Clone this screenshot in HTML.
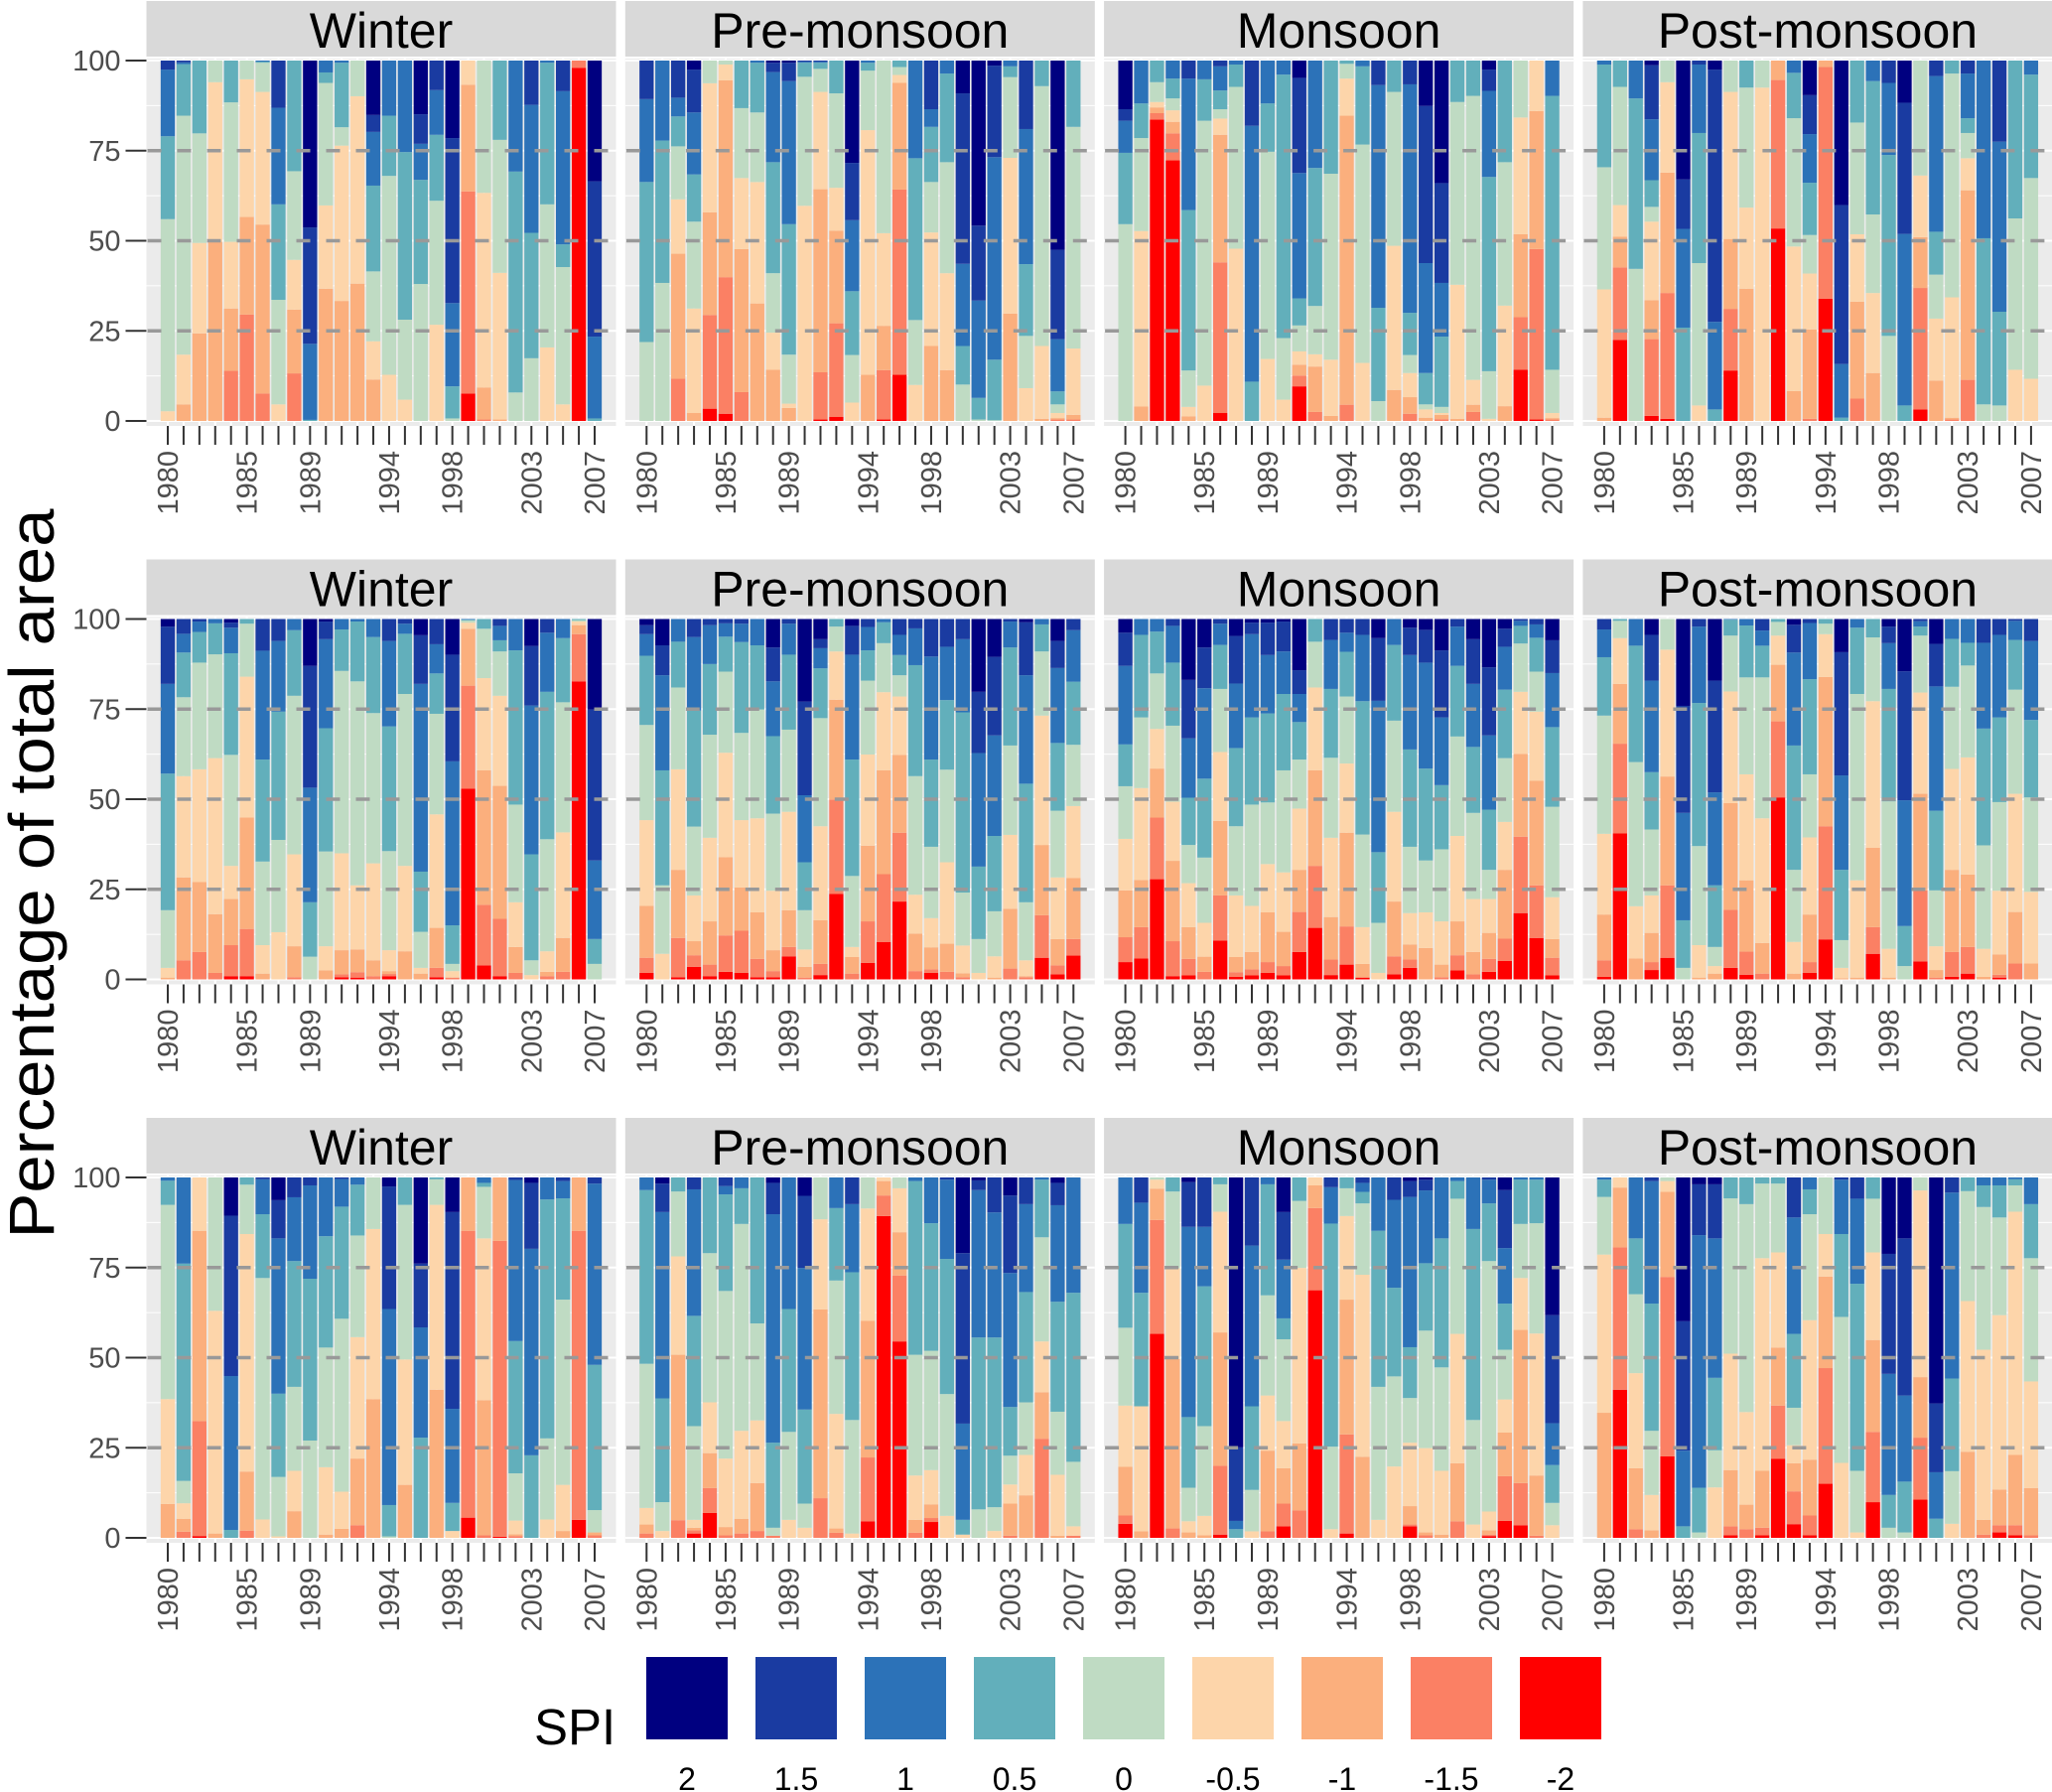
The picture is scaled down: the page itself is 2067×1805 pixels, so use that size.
<!DOCTYPE html>
<html><head><meta charset="utf-8"><title>SPI area percentages</title>
<style>
html,body{margin:0;padding:0;background:#fff;}
svg{display:block;font-family:"Liberation Sans",Arial,sans-serif;}
</style></head>
<body>
<svg id="chart" width="2067" height="1805" viewBox="0 0 2067 1805" xmlns="http://www.w3.org/2000/svg"></svg>
<script>
// ---- data ----
const categories = ["2","1.5","1","0.5","0","-0.5","-1","-1.5","-2"];
const colors = ["#000080","#1a3ba1","#2c72b8","#62afbb","#bfdbc3","#fdd5aa","#fbaf7d","#fb8064","#ff0000"];
const years = [];
for (let y = 1980; y <= 2007; y++) years.push(y);
const xLabelYears = [1980,1985,1989,1994,1998,2003,2007];
const yTicks = [0,25,50,75,100];
const dashedLevels = [25,50,75];
const seasons = ["Winter","Pre-monsoon","Monsoon","Post-monsoon"];
// each bar: cumulative tops (%) of SPI classes -2,-1.5,-1,-0.5,0,0.5,1,1.5 (class 2 fills to 100)
const r1Winter = [[0,0,0,2.7,56,79,97.5,100],[0,0,4.6,18.4,84.7,99,99.5,100],[0,0,24.3,49.4,79.8,100,100,100],[0,0,49.7,94,100,100,100,100],[0,13.9,31.2,49.7,88.4,100,100,100],[0,29.5,56.6,94.8,100,100,100,100],[0,7.6,54.5,91.3,99.4,99.7,100,100],[0,0,0,4.6,33.6,60.1,86.9,100],[0,13.2,30.9,44.7,69.3,100,100,100],[0,0,0,0,0,0.3,21.4,53.7],[0,0,36.7,59.8,93.8,96.7,100,100],[0,0,33.3,76.4,81.5,99.4,100,100],[0,0,38.1,90.1,100,100,100,100],[0,0,11.5,22.1,41.5,65.3,80.2,84.9],[0,0,0,12.8,68,84.7,100,100],[0,0,0,5.9,28.1,74.6,100,100],[0,0,0,0,38,66.9,76.9,85.1],[0,0,0,26.7,61.1,79.4,91.8,100],[0,0,0,0,0.7,9.6,32.7,78.5],[7.6,63.7,93.3,100,100,100,100,100],[0,0.4,9.3,63.3,100,100,100,100],[0,0,0.4,41.1,78,100,100,100],[0,0,0,0,7.9,69.2,100,100],[0,0,0,0,17.4,52.2,87.7,100],[0,0,0,20.4,60.1,99.4,100,100],[0,0,0,4.6,42.7,49,91.5,100],[98,100,100,100,100,100,100,100],[0,0,0,0,0,0.7,23.4,66.5]];
const r1Pre = [[0,0,0,0,21.9,66.3,89.3,100],[0,0,0,0,38.3,77.8,100,100],[0,11.7,46.4,61.5,76.2,84.5,89.7,100],[0,0,2.2,31.2,55.3,68.4,85.6,97.5],[3.4,29.4,57.9,93.7,100,100,100,100],[2,39.9,94.5,98.9,100,100,100,100],[0,8,47.7,67.4,86.8,100,100,100],[0,0,32.6,66.3,85.6,99.4,100,100],[0,0,14.2,24.5,41,71.8,96.8,99.4],[0,0,3.6,4.8,18.4,54.6,94.3,99.4],[0,0,0,59.7,95.5,99.4,99.7,100],[0.4,13.5,64.3,91.3,97.7,99.4,99.7,100],[1.1,27.1,52.8,64.7,90.9,100,100,100],[0,0,0,5.1,18.3,36,55.7,71.6],[0,0,12.8,80.7,97.2,99.4,100,100],[0.4,14.1,26.4,52.1,100,100,100,100],[12.8,64.2,93.8,96,98.2,100,100,100],[0,0,0,10,28,72.9,100,100],[0,0,20.8,52.3,66.3,81.6,86.5,100],[0,0,14.1,41,71.8,96.4,100,100],[0,0,0,0,10.1,20.8,43.6,90.9],[0,0,0,0,0.4,6.4,33.4,54.2],[0,0,0,0,0.2,17,73.2,98.6],[0,0,29.8,73,95.4,98.4,100,100],[0,0,0,9.1,23.6,43.5,81,100],[0,0,0.6,20.8,92.9,100,100,100],[0,0.4,0.8,2.2,4.6,8.2,22.7,47.5],[0,0.4,1.7,20.1,81.6,100,100,100]];
const r1Mon = [[0,0,0,0,54.6,74.4,83.3,86.5],[0,0,4,52.7,78.5,88.1,100,100],[83.6,85.4,87,88.5,94,100,100,100],[72.3,79.8,83,86.2,89.5,95,100,100],[0,0,1.3,3.9,14,58.5,95,100],[0,0,0,9.8,83.3,94.8,100,100],[2.2,44,79.4,83.9,86.5,91.7,98.4,100],[0,0,0,47.8,92.7,98.9,100,100],[0,0,0,0,0,10.9,81.9,100],[0,0,0,17.2,74.7,88.1,100,100],[0,0,0,5.9,23,96.1,100,100],[9.6,12.6,15.6,19.3,26.5,34,68.8,95.2],[0,2.5,15.1,18.5,31.9,70.2,100,100],[0,0,1.4,17,68.6,100,100,100],[0,4.5,84.7,95,99.1,100,100,100],[0,0,0,16.1,76.7,98.4,100,100],[0,0,0,0,5.5,31.4,93.2,100],[0,0,8.6,48.6,91.3,100,100,100],[0,2,6.6,13.3,18.3,30,93.4,100],[0,0,0.9,3.2,4.6,13.3,43.8,87.4],[0,0.5,1.7,2.2,3.9,23.4,38.3,66],[0,0,0.6,37.8,88.5,100,100,100],[0,2.5,4.5,11.4,90.2,100,100,100],[0,0,0,0.6,13.8,67.7,91.6,97.5],[0,0,4.1,32,71.8,100,100,100],[14.2,28.8,51.8,84.2,100,100,100,100],[0.4,47.7,86,100,100,100,100,100],[0,0.4,0.8,2.2,14.2,90.2,100,100]];
const r1Post = [[0,0,0.9,36.5,70.4,98.9,100,100],[22.5,42.6,51.1,59.9,92.7,100,100,100],[0,0,0,0,42.2,89.5,100,100],[1.4,22.7,33.5,55.3,59.4,66.8,83.7,98.7],[0.6,35.5,68.9,94,100,100,100,100],[0,0,0,0,0,25.9,53.3,67],[0,0,0,4.3,43.8,79.9,98.9,100],[0,0,0,0,0,3.2,27.5,97.5],[14,31.1,50.5,91.3,100,100,100,100],[0,0,36.7,59.2,92.5,100,100,100],[0,0,0,92.5,100,100,100,100],[53.4,94.6,100,100,100,100,100,100],[0,0,8.3,48.4,84,96.6,100,100],[0,0.6,25.4,40.9,51.6,66.1,79.6,90.4],[33.9,98.2,100,100,100,100,100,100],[0,0,0,0,0,0.9,15.8,59.9],[0,6.2,33.1,51.8,82.8,100,100,100],[0,0,13.3,35.5,57.3,94.3,100,100],[0,0,0,0,23.6,73.8,93.8,100],[0,0,0,0,0,4.3,51.9,88.3],[3.2,36.9,51,68.1,100,100,100,100],[0,0,11.2,28.4,40.6,52.5,95.7,100],[0,0.4,0.9,34.3,96.4,100,100,100],[0,11.4,64,72.9,79.9,84,96.4,100],[0,0,0,0,4.6,50.7,100,100],[0,0,0,0,4.3,30.3,77.5,100],[0,0,0,14.2,56.2,100,100,100],[0,0,0,11.7,67.4,96.1,100,100]];
const r2Winter = [[0,0,0.5,3.2,19.2,57.1,82,97.9],[0,5.3,28.3,56.4,78.3,90.7,95.9,100],[0,7.6,27,58.3,87.9,96.4,99.3,100],[0,1.8,18.1,61.4,90.2,98.8,100,100],[0.9,9.5,22.3,31.5,62.3,90.5,97.6,99],[0.9,14,44.9,84,98.7,100,100,100],[0,0,1.6,9.5,32.7,61,91.2,100],[0,0,0,13.1,38.7,74.3,93.9,100],[0,0.6,9.2,34.7,78.7,96.9,100,100],[0,0,0,0,6.3,21.4,53.2,87],[0,0,2.5,9.2,35.5,69.7,94.4,99.3],[0.6,1.4,8.1,35,85.6,97.1,100,100],[0.5,2,8.3,26.1,82.7,99.3,100,100],[0,0.9,5.3,32.2,73.9,95,100,100],[0.9,1.5,2.3,8.1,35.6,70.2,93.9,100],[0,0,7.8,31.5,79.2,95.9,98.7,100],[0,0,1.6,3.2,13.2,29.9,82,95.5],[0.6,3.2,14.3,45.8,73.7,84.9,93,100],[0,0.5,0.5,2.3,4.3,15,60.5,90.1],[52.9,81.5,97.3,99,99.6,99.8,100,100],[3.9,20.7,58,83.6,97.3,100,100,100],[0.9,16.8,53.7,78.7,91,94.1,98.1,100],[0,1.8,9,21.4,48.5,91.3,100,100],[0,0,0,1.2,5.3,34.7,76,92.5],[0,0.9,2.1,7.8,38.9,79.8,96.2,100],[0,2.1,11.5,40.8,76.9,94.7,100,100],[82.7,95.8,98.3,99.3,99.7,100,100,100],[0,0,0,0,4.3,11.2,33,74.9]];
const r2Pre = [[1.8,6,20.4,44.2,70.6,89.8,95.8,98.3],[0,0,0,7.1,26.1,58,84.4,92.7],[0.6,11.5,30.4,58.3,81,93.7,100,100],[3.5,6.7,10.6,23.3,42.4,74.6,95,100],[0.9,4.1,16.1,39.3,67.9,87.5,98.3,100],[2.1,12.2,33.9,62.9,85.4,95.1,98.8,100],[1.8,13.5,25.5,44.2,68.4,93.6,98.7,100],[0.6,5.7,18.6,44.7,74.9,92.7,100,100],[0.6,2.3,8.1,24.6,46,67.5,82.7,92.1],[6.4,9,19.2,46.5,69.3,90.1,98.7,100],[0,0.5,3.5,8.3,19.2,32.5,51.1,77.1],[1.2,4.3,16.4,42.5,72.5,86.3,91.9,94.4],[23.7,49.9,77.6,91,97.9,100,100,100],[0,1.6,6.2,9,28.7,61,90.1,98.1],[4.6,16.1,37.1,62.4,82.9,91.3,97.8,100],[10.4,29.2,58,79.7,93.3,99.1,100,100],[21.6,40.7,62.3,78.5,84.4,90,95.6,100],[0,2.3,12.7,23.5,56.4,87.2,97.4,100],[1.8,2.8,8.9,17,36.8,61,89.6,100],[0,2.1,9.9,32.5,58.2,77.5,92.3,100],[0,0.6,1.7,9.4,24.1,74.1,94.4,100],[0,0,0,1.8,11.2,31.3,62.8,79.8],[0,0,0.5,6.4,18.9,39.8,67.7,89.5],[0,3,19.6,40.1,64.9,92.1,99.3,100],[0,0.6,0.9,5.3,21.4,54.3,84.4,99.1],[6,17.8,37.3,73.2,91,98.5,100,100],[1.4,3.9,11.2,28.3,46.8,65.6,86.4,93.9],[6.6,11.2,28.1,48.1,65.1,82.6,96.9,100]];
const r2Mon = [[4.8,11.7,24.7,39,53.6,65.2,87,96.2],[5.8,14.5,27.6,53.1,72.7,95.6,100,100],[27.8,44.9,58.5,69.5,84.9,96.5,100,100],[0.9,10.6,32.9,49.3,70.4,87.9,98.1,100],[1.1,5.7,14.5,26.7,37.3,50.4,66.9,83.1],[0,2.1,6.3,15.7,33.8,55.7,80.8,92.1],[10.8,23.3,44,63.1,80.6,92.8,98.7,100],[0.7,2,6.2,23.3,42.5,64.2,82.1,95.3],[1.1,2.8,7.6,20.4,48.5,72.7,95.8,99],[1.8,4.8,18.6,32,49.1,73.8,90,99],[1.1,3.7,13.2,29.7,58,79.2,91,99.3],[7.6,18.7,30.4,47.4,61,71.4,79.2,85.8],[14.3,31.5,58,81,93.7,100,100,100],[1.2,5.5,17.3,39.3,61.5,80.6,94.2,100],[4.1,14.7,40.7,59.9,78.5,90.9,96.2,100],[0.5,0.5,4.3,14.5,40.2,77.2,95.6,100],[0,0,0,1.8,15.7,35.3,77.3,94.7],[1.4,6.4,21.6,46.5,71.8,92.8,100,100],[3.2,5.5,9.7,18.4,36.8,63.8,90,97.6],[0,0,8.7,18.6,33,58.5,87.9,97],[0,0.6,4.1,16.1,36.1,53.9,72.7,91.3],[2.5,6.7,16.1,39.8,67.4,87,97.9,100],[0,1.4,7.6,22.3,46.2,64.5,82,94.4],[2.1,5.7,12.9,22.3,30.4,47.1,67.7,86.6],[5.1,11.3,30.4,43.7,61.4,80.4,92.3,97.3],[18.4,39.6,62.6,79.8,93.2,98.1,99.5,100],[11.5,26.1,55.1,74.3,85.4,94.8,98.5,100],[1.1,6,11.2,22.8,47.9,70,85,94.1]];
const r2Post = [[0.7,5.3,18,40.4,73.2,89.4,97.1,100],[40.5,65.4,82,94.7,99.5,100,100,100],[0,0,5.8,20.3,60.3,92.6,100,100],[2.6,4.8,12.9,23.3,41.6,57.5,82.9,95.6],[6,26.1,56.3,91.5,100,100,100,100],[0,0,0,0,3.2,16.4,46.2,75.9],[0,0,0.5,9.5,37,76.7,97.9,100],[0,0,1.6,3.7,9,26.1,51.9,82.9],[3.2,19.3,48.9,79.9,95.4,99.8,100,100],[1.3,7.7,27.5,56.9,83.8,98.2,100,100],[0,1.6,10.1,44.7,83.8,92.6,96.8,100],[50.5,71.6,87.3,95.4,99.2,100,100,100],[0,0,1.6,10.4,30.4,64.9,90.7,98.4],[1.8,4.8,18,39.4,56.9,83.3,98.9,100],[11.1,42.5,83.9,95.8,98.7,100,100,100],[0,0,0.3,3.2,10.9,30.4,56.6,90.8],[0,0,0.5,27.5,79.2,97.6,100,100],[7.1,14.5,36.5,77.2,94.9,100,100,100],[0,0,0.5,8.5,49.4,80.6,93.3,97.9],[0,0,0,0,3.7,14.8,49.7,85.5],[5,24.7,51.5,79.6,95.4,97.9,99.4,100],[0,0.5,2.6,9.2,24.7,46.8,81.3,93.1],[0.7,7.6,30.4,58.4,81.2,94.5,100,100],[1.6,9,29.1,61.6,87.1,93.4,100,100],[0,0,0.7,8.5,37.2,69.6,93.4,100],[0.5,1.3,6.9,24.6,49.2,72.7,95.6,100],[0,4.4,18.7,51.5,80.4,94.2,99.5,100],[0,0,4.4,24.3,50.5,72,93.9,100]];
const r3Winter = [[0,0,9.4,38.5,92.4,99.1,100,100],[0,1.7,5.3,9.6,15.8,76.1,100,100],[0.5,32.4,85.2,100,100,100,100,100],[0,0,1.2,63,100,100,100,100],[0,0,0,0,0,2.2,44.9,89.4],[0,2,18.4,84.3,98,100,100,100],[0,0,0,5.1,72.1,89.8,99.5,100],[0,0,0,0.4,16.9,40,83.1,93.7],[0,0,7.4,18.6,41.9,76.8,94.5,100],[0,0,0,0,27,71.9,97.8,100],[0,0,0.9,19.6,52.8,83.7,100,100],[0,0,2.5,12.8,60.8,91.9,99.6,100],[0,3.5,22,55.7,83.9,98,100,100],[0,0,38.5,85.7,100,100,100,100],[0,0,0,0,0.4,9.1,63.5,97.5],[0,0,14.7,49.5,92.4,100,100,100],[0,0,0,0,0,27.8,58.4,76.1],[0,0,41.1,92.4,99.5,100,100,100],[0,0,0,1.9,1.9,9.7,35.8,90.4],[5.6,85.2,100,100,100,100,100,100],[0,0.7,38.2,83.1,97.4,98.5,100,100],[0.3,82.4,100,100,100,100,100,100],[0,0.5,1,4.8,17.9,54.6,99.3,100],[0,0,0,0,0,22.9,80.2,98.5],[0,0,0,5.1,27.6,93.9,100,100],[0,0,1.9,14.7,66.1,94.2,99,100],[5,85.2,100,100,100,100,100,100],[0,0.7,1.5,1.5,7.7,48,98.3,100]];
const r3Pre = [[0,1.2,3.7,8.3,48.3,96.5,100,100],[0,0,0,1.9,9.9,38.7,90.4,98.3],[0,4.9,50.8,78.1,96.1,100,100,100],[1.2,2.1,2.8,5,31,61.6,96.7,100],[6.9,13.8,23.5,37.6,79,100,100,100],[0,0.7,3,22,68.5,95.3,97.6,100],[0,1.2,5.3,29.7,87.1,97,100,100],[0,1.9,15.2,32.6,59.5,100,100,100],[0,0.6,0.6,0.6,2.8,26.4,89.8,98.5],[0,0,0,5,29.4,63.5,100,100],[0,0,0,2.8,9.5,35.6,74.9,94.9],[0,11,63.4,88.4,100,100,100,100],[0,1.4,2.6,34.4,71.4,91.5,100,100],[0,0,0,1.2,32.7,73.7,92.6,100],[4.6,22.3,60.2,91.4,100,100,100,100],[89.3,95,99,100,100,100,100,100],[54.5,72.8,84.8,97,100,100,100,100],[0,1.4,5,17.3,50.8,99,100,100],[4.4,5.5,9.3,18.8,51.9,87.3,100,100],[0,0,0,6.1,39.9,77.4,99.4,100],[0,0,0,0.9,0.9,5,31.7,79],[0,0,0,0,7.9,55.6,96.5,99.2],[0,0,0,1.9,8.5,55.6,90.3,100],[0,0.6,9.5,14.8,22.8,36.3,73.5,95],[0,0,11.8,23,37.6,68.2,92.6,100],[0,27.5,40.4,54.5,83.4,99.4,100,100],[0,0,0.6,17.5,35,65.5,92.3,98.5],[0,0.6,0.6,3.2,21.1,68,100,100]];
const r3Mon = [[3.9,6.2,19.7,36.7,58.3,87.1,100,100],[0,0,1.8,36.5,36.5,68,93,100],[56.6,88.2,96.9,99.4,100,100,100,100],[0,2.6,49.6,74.8,96.1,100,100,100],[0,0,1.5,4.6,13.9,33.5,86.3,98.7],[0,0,0.7,6.1,31,69.8,86.3,100],[0.9,20,57,90.5,98.1,100,100,100],[0,0,0,0,0,2.4,4.7,25.1],[0,0,0,1.8,13.3,36.5,81.1,100],[0,1.8,24.2,39.5,67.3,98.1,100,100],[3.2,9.5,19.3,32.4,55.1,60.9,77.2,90.4],[0,7.6,26.2,74.9,93.5,100,100,100],[68.7,91.5,97.8,100,100,100,100,100],[0,0,0,2.4,25.3,87.2,97.3,100],[1.2,28.7,66.1,89.3,97,100,100,100],[0,0,22.5,73,92.8,96,98.5,100],[0,0,0,5,41.9,85.2,100,100],[0,0,0,19.8,44.8,69.4,93.8,100],[3.2,3.7,8.8,26.4,38.8,52.9,94.6,99],[0,0.7,1.5,24.9,57.5,76.2,96.4,99.4],[0,0,0.9,18.6,47.3,83.1,100,100],[0,4.6,20.7,56.6,94.1,99,100,100],[0,0,0,3.7,32.7,85.7,100,100],[0.5,0.9,2.1,7.3,76.8,92.8,99.4,100],[4.7,17.1,29.2,38.4,52.2,65,80.4,96.5],[3.5,15.2,57.7,72.1,87.1,99.4,100,100],[0,0.6,17.3,56.7,87.3,99.4,100,100],[0,0,0,3.5,9.7,20.2,31.8,61.8]];
const r3Post = [[0,0,34.7,78.6,94.6,99.4,100,100],[41.1,80.6,97.2,100,100,100,100,100],[0,2.4,19.3,45.7,67.6,83.1,100,100],[0,0,2.1,11.9,29.7,65,99,100],[22.6,72.4,96,99,100,100,100,100],[0,0,0,0,0,3.2,24.2,60.1],[0,0,0,0,1.5,13.9,84,98.1],[0,0,0,14,24.3,44.4,83.1,98.1],[0.7,3.2,18.8,51.1,94.2,100,100,100],[0,2.4,9.2,34.9,92.6,100,100,100],[0.7,2.8,18.6,77.6,98.3,100,100,100],[21.9,36.7,52.8,79.2,98.3,100,100,100],[3.8,12.9,20.7,25.7,36.1,56.6,88.9,100],[0.7,6.2,21.7,60.4,89.8,96.7,100,100],[15,47.1,72.5,84.3,100,100,100,100],[0,0,0,20.8,61.3,84.3,99.4,100],[0,0,0,1.5,18.6,70.5,94.1,100],[9.9,29.4,54.9,79.2,94.1,100,100,100],[0,0,0,0,2.8,11.9,45.5,78.8],[0,0,0,0,1.5,15.6,39.5,83.1],[10.6,27.8,44.6,96.4,100,100,100,100],[0,0,0,0,0,5.3,18.2,37.3],[0,0,0,3.9,18.5,44.2,95.8,100],[0,0,23.9,65.7,96.2,100,100,100],[0,0.9,5,52.2,91.8,97.8,100,100],[1.5,3.5,13.4,61.8,88.9,97.8,100,100],[0.7,3.5,23,90.5,97.8,99.5,100,100],[0,0.7,13.8,43.4,77.6,92.6,100,100]];
const panelData = [[r1Winter,r1Pre,r1Mon,r1Post],[r2Winter,r2Pre,r2Mon,r2Post],[r3Winter,r3Pre,r3Mon,r3Post]];

// ---- layout ----
const NS = "http://www.w3.org/2000/svg";
const svg = document.getElementById("chart");
const panelLeft = c => 147.5 + c * 482.3;
const panelW = 473;
const rowTop = r => r * 562.5;
const yScale = (r, v) => rowTop(r) + 424 - v * 3.63;
const xCenter = (c, i) => panelLeft(c) + 21.5 + i * ((panelW - 43) / 27);
const barW = 14.3;

function mk(tag, attrs, parent) {
  const e = document.createElementNS(NS, tag);
  for (const k in attrs) e.setAttribute(k, attrs[k]);
  (parent || svg).appendChild(e);
  return e;
}

for (let r = 0; r < 3; r++) {
  for (let c = 0; c < 4; c++) {
    const g = mk("g", {});
    
    
    const L = panelLeft(c), T = rowTop(r);
    // strip
    const strip = mk("rect", {x: L, y: T + 1, width: panelW, height: 56, fill: "#d9d9d9"}, g);
    
    
    const st = mk("text", {x: L + panelW / 2, y: T + 48, "text-anchor": "middle", "font-size": 50, fill: "#000"}, g);
    st.textContent = seasons[c];
    
    
    // background
    const bg = mk("rect", {x: L, y: T + 59, width: panelW, height: 370, fill: "#ebebeb"}, g);
    
    
    for (let v = 12.5; v < 100; v += 25) mk("line", {x1: L, x2: L + panelW, y1: yScale(r, v), y2: yScale(r, v), stroke: "#fff", "stroke-width": 1}, g);
    for (const v of yTicks) mk("line", {x1: L, x2: L + panelW, y1: yScale(r, v), y2: yScale(r, v), stroke: "#fff", "stroke-width": 2}, g);
    for (let i = 0; i < years.length; i++) mk("line", {x1: xCenter(c, i), x2: xCenter(c, i), y1: T + 59, y2: T + 429, stroke: "#fff", "stroke-width": 2}, g);
    // bars
    const data = panelData[r][c];
    data.forEach((cum, i) => {
      const bg2 = mk("g", {}, g);
      
      
      const bounds = [0].concat(cum).concat([100]); // bottom->top, classes -2 .. 2
      for (let k = 0; k < 9; k++) {
        const lo = bounds[k], hi = bounds[k + 1];
        if (hi - lo <= 0) continue;
        const ci = 8 - k;
        const seg = mk("rect", {x: xCenter(c, i) - barW / 2, y: yScale(r, hi), width: barW, height: yScale(r, lo) - yScale(r, hi), fill: colors[ci]}, bg2);
        
        
      }
    });
    // dashed reference lines
    for (const v of dashedLevels) {
      const dl = mk("line", {x1: L, x2: L + panelW, y1: yScale(r, v), y2: yScale(r, v), stroke: "#999", "stroke-width": 3.5, "stroke-dasharray": "14 16", "stroke-dashoffset": "-1"}, g);
      
      
    }
    // x axis ticks + labels
    for (let i = 0; i < years.length; i++) {
      mk("line", {x1: xCenter(c, i), x2: xCenter(c, i), y1: T + 429, y2: T + 448, stroke: "#333", "stroke-width": 2}, g);
      if (xLabelYears.includes(years[i])) {
        const x = xCenter(c, i) + 10, y = T + 454;
        const t = mk("text", {x: x, y: y, transform: "rotate(-90 " + x + " " + y + ")", "text-anchor": "end", "font-size": 29, fill: "#4d4d4d"}, g);
        t.textContent = years[i];
        
        
      }
    }
    // y axis (first column only)
    if (c === 0) {
      for (const v of yTicks) {
        mk("line", {x1: L - 21, x2: L, y1: yScale(r, v), y2: yScale(r, v), stroke: "#333", "stroke-width": 2}, g);
        const t = mk("text", {x: L - 26, y: yScale(r, v) + 10, "text-anchor": "end", "font-size": 29, fill: "#4d4d4d"}, g);
        t.textContent = v;
        
        
      }
    }
  }
}

// y-axis title
const yt = mk("text", {x: 0, y: 0, transform: "translate(54 880) rotate(-90)", "text-anchor": "middle", "font-size": 64, fill: "#000", textLength: 735, lengthAdjust: "spacingAndGlyphs"});
yt.textContent = "Percentage of total area";



// legend
const lg = mk("g", {});


const lt = mk("text", {x: 538, y: 1757, "font-size": 51, fill: "#000"}, lg);
lt.textContent = "SPI";


categories.forEach((cat, k) => {
  const x = 651 + k * 110;
  const kr = mk("rect", {x: x, y: 1669, width: 82, height: 83, fill: colors[k]}, lg);
  
  
  const kt = mk("text", {x: x + 41, y: 1803, "text-anchor": "middle", "font-size": 32, fill: "#000"}, lg);
  kt.textContent = cat;
  
  
});
</script>
</body></html>
